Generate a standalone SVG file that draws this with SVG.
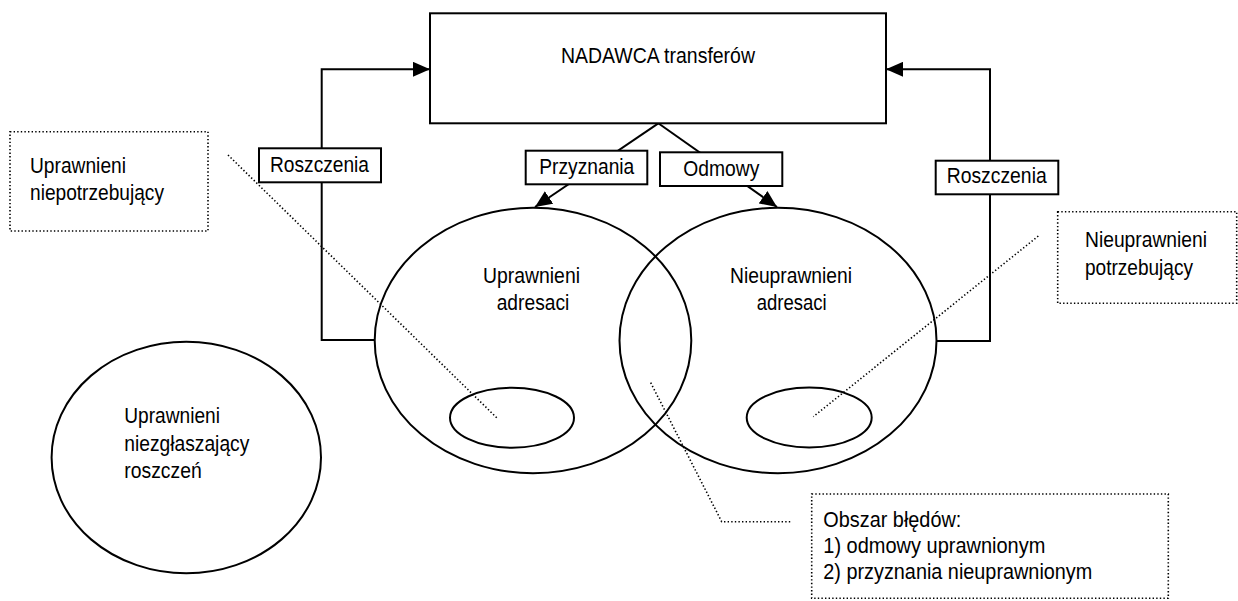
<svg xmlns="http://www.w3.org/2000/svg" width="1238" height="601" viewBox="0 0 1238 601">
<defs>
<style>
.t{font-family:"Liberation Sans",Arial,sans-serif;font-size:22px;fill:#000}
.box{fill:#fff;stroke:#000;stroke-width:2}
.ell{fill:none;stroke:#000;stroke-width:2}
.con{fill:none;stroke:#000;stroke-width:2}
.dot{fill:none;stroke:#000;stroke-width:1.6;stroke-dasharray:1.4 2.2}
</style>
<marker id="arr" markerUnits="userSpaceOnUse" markerWidth="17" markerHeight="15" viewBox="0 0 17 15" refX="17" refY="7.5" orient="auto">
<path d="M0,0 L17,7.5 L0,15 z" fill="#000"/>
</marker>
</defs>
<rect width="1238" height="601" fill="#fff"/>

<g id="ellipses">
<ellipse id="uprawnieni-adresaci-ell" class="ell" cx="533" cy="340.5" rx="158.3" ry="132.7"/>
<ellipse id="nieuprawnieni-adresaci-ell" class="ell" cx="778" cy="340.5" rx="158.5" ry="132.7"/>
<ellipse class="ell" cx="512" cy="417.7" rx="62" ry="30"/>
<ellipse class="ell" cx="809.2" cy="417.5" rx="62.5" ry="30"/>
</g>

<g id="connectors">
<path class="con" d="M375,340 H321.7 V69.3 H430" marker-end="url(#arr)"/>
<path class="con" d="M936.5,341 H990 V69.3 H886" marker-end="url(#arr)"/>
<path class="con" d="M658.3,123.3 L535,207" marker-end="url(#arr)"/>
<path class="con" d="M658.3,123.3 L777,207" marker-end="url(#arr)"/>
<path class="dot" d="M228,155 L498.3,419.3"/>
<path class="dot" d="M1038.3,236 L813.3,416.7"/>
<path class="dot" d="M650.7,382.7 L721.7,521.7 H792"/>
</g>

<g id="nadawca">
<rect class="box" x="430" y="13.3" width="456" height="110"/>
<text class="t" x="561" y="63.3" textLength="194" lengthAdjust="spacingAndGlyphs">NADAWCA transferów</text>
</g>

<g id="przyznania">
<rect class="box" x="525.7" y="150.7" width="121.6" height="33.6"/>
<text class="t" x="539.3" y="174" textLength="95" lengthAdjust="spacingAndGlyphs">Przyznania</text>
</g>

<g id="odmowy">
<rect class="box" x="660" y="152.3" width="122.3" height="33.7"/>
<text class="t" x="683.3" y="175.7" textLength="76" lengthAdjust="spacingAndGlyphs">Odmowy</text>
</g>

<g id="roszczenia-left">
<rect class="box" x="259" y="148.3" width="122" height="34"/>
<text class="t" x="270" y="171.7" textLength="99" lengthAdjust="spacingAndGlyphs">Roszczenia</text>
</g>

<g id="roszczenia-right">
<rect class="box" x="935.7" y="160.7" width="122.6" height="33.6"/>
<text class="t" x="946.7" y="183.3" textLength="100" lengthAdjust="spacingAndGlyphs">Roszczenia</text>
</g>

<g id="uprawnieni-niepotrzebujacy">
<rect class="dot" x="10" y="131.7" width="198" height="99.3"/>
<text class="t" x="30" y="173.3" textLength="96" lengthAdjust="spacingAndGlyphs">Uprawnieni</text>
<text class="t" x="30" y="199.5" textLength="134" lengthAdjust="spacingAndGlyphs">niepotrzebujący</text>
</g>

<g id="nieuprawnieni-potrzebujacy">
<rect class="dot" x="1057.7" y="211.7" width="179" height="91.6"/>
<text class="t" x="1085" y="246.7" textLength="122" lengthAdjust="spacingAndGlyphs">Nieuprawnieni</text>
<text class="t" x="1085" y="275" textLength="108" lengthAdjust="spacingAndGlyphs">potrzebujący</text>
</g>

<g id="uprawnieni-adresaci">
<text class="t" x="483" y="283" textLength="97" lengthAdjust="spacingAndGlyphs">Uprawnieni</text>
<text class="t" x="496.7" y="310" textLength="72.6" lengthAdjust="spacingAndGlyphs">adresaci</text>
</g>

<g id="nieuprawnieni-adresaci">
<text class="t" x="730" y="283" textLength="122" lengthAdjust="spacingAndGlyphs">Nieuprawnieni</text>
<text class="t" x="756.7" y="310" textLength="70" lengthAdjust="spacingAndGlyphs">adresaci</text>
</g>

<g id="uprawnieni-niezglaszajacy">
<ellipse class="ell" cx="186.3" cy="457.5" rx="134.7" ry="115.8"/>
<text class="t" x="124.3" y="423.3" textLength="95.7" lengthAdjust="spacingAndGlyphs">Uprawnieni</text>
<text class="t" x="124.3" y="451" textLength="125" lengthAdjust="spacingAndGlyphs">niezgłaszający</text>
<text class="t" x="124.3" y="477.7" textLength="77.4" lengthAdjust="spacingAndGlyphs">roszczeń</text>
</g>

<g id="obszar-bledow">
<rect class="dot" x="811.7" y="494" width="356.6" height="104.3"/>
<text class="t" x="823.3" y="526.7" textLength="138" lengthAdjust="spacingAndGlyphs">Obszar błędów:</text>
<text class="t" x="823.3" y="552.7" textLength="222" lengthAdjust="spacingAndGlyphs">1) odmowy uprawnionym</text>
<text class="t" x="823.3" y="579.3" textLength="269" lengthAdjust="spacingAndGlyphs">2) przyznania nieuprawnionym</text>
</g>
</svg>
